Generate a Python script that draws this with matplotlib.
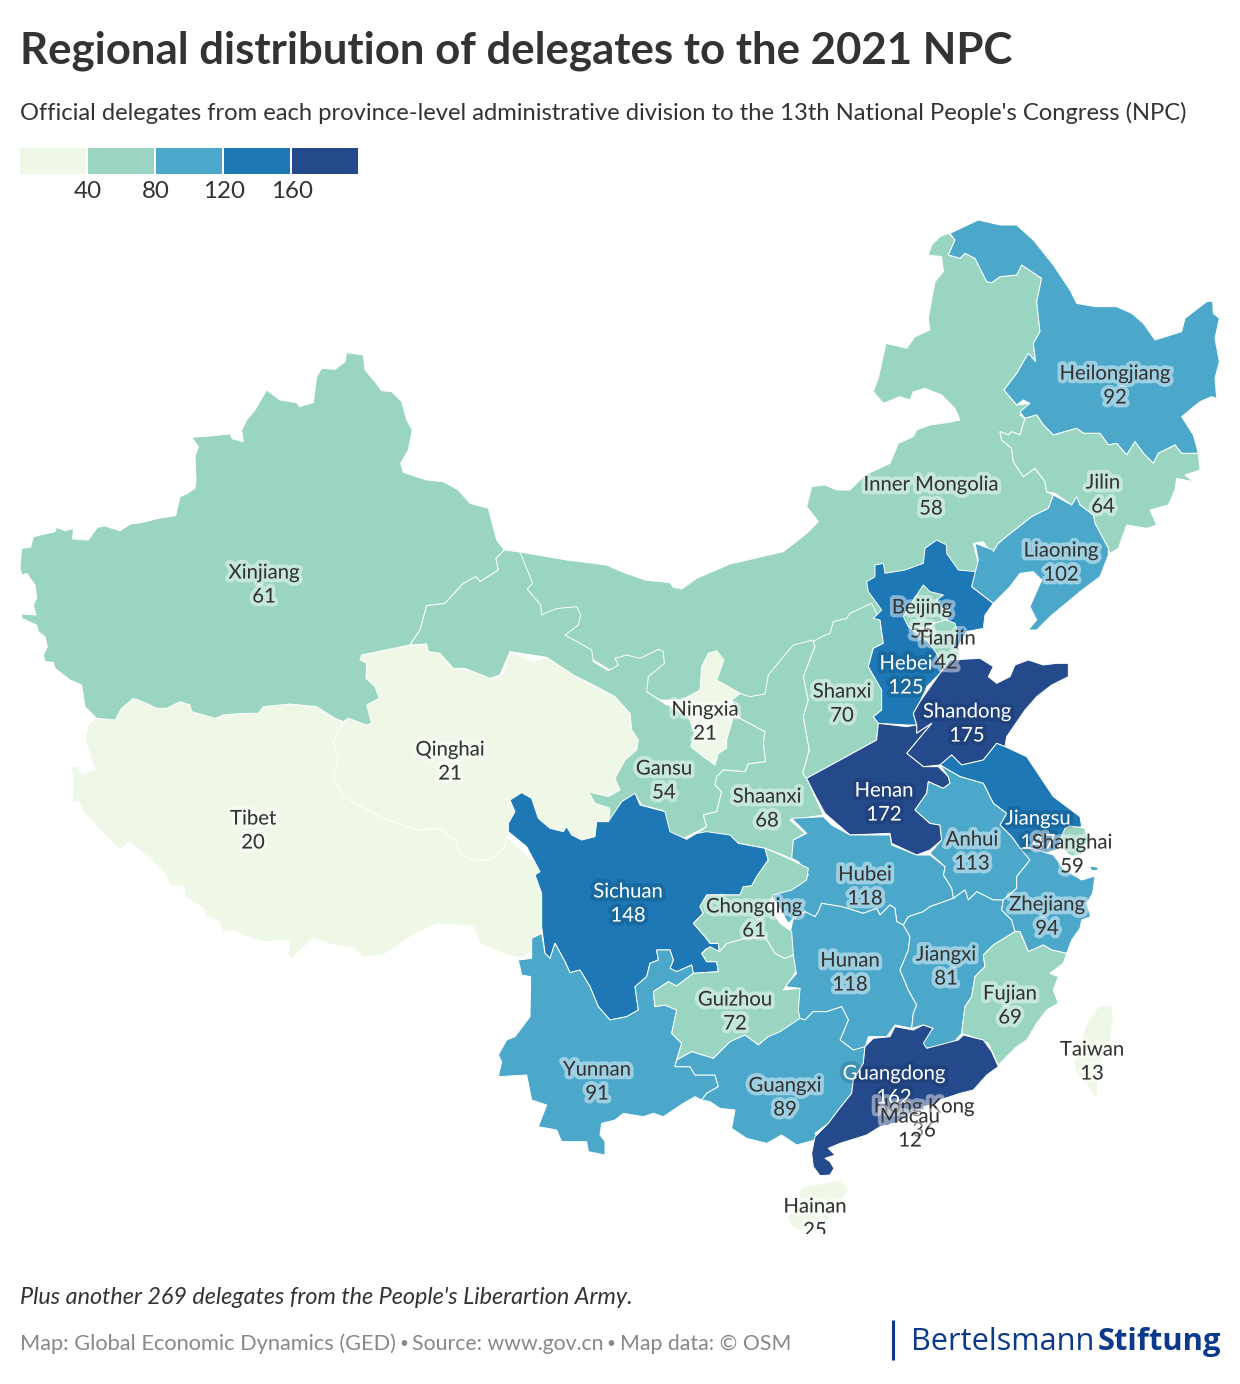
import numpy as np
import matplotlib
matplotlib.use("Agg")
import matplotlib.pyplot as plt
import matplotlib.patheffects as pe
from matplotlib.colors import BoundaryNorm, ListedColormap
from matplotlib.patches import Polygon

plt.rcParams["font.family"] = ["Lato", "DejaVu Sans"]

# ---------- data ----------
REGIONS = ["Tibet", "Qinghai", "Xinjiang", "Inner Mongolia", "Gansu", "Shaanxi", "Ningxia", "Shanxi",
           "Hebei", "Beijing", "Tianjin", "Heilongjiang", "Jilin", "Liaoning", "Shandong", "Henan",
           "Jiangsu", "Anhui", "Shanghai", "Hubei", "Hunan", "Sichuan", "Yunnan", "Guizhou", "Chongqing",
           "Guangxi", "Jiangxi", "Zhejiang", "Fujian", "Guangdong", "Hong Kong", "Macau", "Hainan", "Taiwan"]
DELEGATES = [20, 21, 61, 58, 54, 68, 21, 70,
             125, 55, 42, 92, 64, 102, 175, 172,
             147, 113, 59, 118, 118, 148, 91, 72, 61,
             89, 81, 94, 69, 162, 36, 12, 25, 13]
BIN_EDGES = [0, 40, 80, 120, 160, 200]
BIN_COLORS = ["#EFF8E7", "#99D5C0", "#4CA8CB", "#1D78B5", "#244A8C"]
LEGEND_TICKS = [40, 80, 120, 160]

TITLE = "Regional distribution of delegates to the 2021 NPC"
SUBTITLE = "Official delegates from each province-level administrative division to the 13th National People's Congress (NPC)"
NOTE = "Plus another 269 delegates from the People's Liberartion Army."
SOURCE_PARTS = ["Map: Global Economic Dynamics (GED)", "Source: www.gov.cn", "Map data: © OSM"]


def crop(x0, y0, pts):
    return [(x0 + px / 3, y0 + py / 3) for px, py in pts]


# outlines (map pixel space)
OUTLINES = {}
OUTLINES["Tibet"] = [crop(60, 640, [(85,255),(105,235),(130,100),(800,100),(845,255),(820,305),(835,350),(820,410),(850,470),(970,535),(1070,570),(1140,565),(1190,605),(1200,645),(1250,660),(1290,660),(1335,620),(1340,590),(1460,700),(1460,900),(1385,955),(1340,945),(1260,910),(1240,860),(1130,850),(1060,885),(970,945),(910,950),(880,925),(820,915),(760,895),(695,955),(685,945),(690,900),(610,905),(555,890),(525,870),(490,875),(475,840),(435,830),(430,805),(375,770),(370,740),(330,735),(315,700),(245,635),(205,607),(180,630),(120,570),(70,515),(55,485),(35,485),(40,430),(35,380),(55,378),(65,405),(105,388),(90,345),(75,295)])]
OUTLINES["Qinghai"] = [crop(60, 640, [(845,255),(900,200),(900,45),(1050,15),(1100,15),(1175,50),(1185,85),(1225,90),(1250,100),(1300,115),(1330,100),(1350,35),(1420,65),(1450,55)])
                       + crop(500, 540, [(140,352),(220,405),(280,435),(345,470),(390,520),(395,570),(415,600),(410,630),(375,660),(345,715),(360,750),(325,770),(265,755),(285,790),(330,805),(325,850),(285,960),(120,930),(36,876)])
                       + crop(60, 640, [(1340,590),(1335,620),(1290,660),(1250,660),(1200,645),(1190,605),(1140,565),(1070,570),(970,535),(850,470),(820,410),(835,350),(820,305)])]
OUTLINES["Xinjiang"] = [crop(10, 340, [(30,680),(35,625),(62,622),(70,590),(135,575),(140,562),(165,572),(190,565),(188,597),(235,600),(262,562),(285,558),(330,572),(362,552),(395,548),(445,535),(497,527),(510,470),(530,462),(555,445),(558,420),(555,350),(565,320),(545,292),(600,288),(660,282),(668,297),(700,305),(695,270),(710,240),(735,210),(770,150),(810,180),(860,188),(868,200),(910,188),(920,110),(935,85),(975,88),(1005,65),(1010,38),(1060,45),(1065,90),(1095,125),(1115,152),(1145,155),(1175,185),(1190,240),(1207,270),(1195,330),(1172,370),(1180,397),(1250,420),(1300,425),(1345,450),(1380,490),(1435,505),(1440,525),(1460,600),(1483,630),(1458,655),(1465,690),(1410,725),(1398,710),(1360,730),(1305,790),(1250,797),(1230,870),(1200,915),(1150,925),(1055,945),(1050,960),(1070,970),(1068,1015),(1095,1040),(1108,1075),(1070,1095),(1085,1150),(1070,1155),(1015,1135),(1000,1145),(975,1135),(920,1100),(840,1092),(760,1100),(745,1120),(700,1120),(640,1125),(615,1135),(545,1115),(540,1095),(510,1085),(470,1105),(440,1105),(410,1090),(370,1075),(335,1105),(315,1140),(260,1135),(225,1100),(215,1035),(180,1020),(135,985),(130,967),(105,965),(100,945),(112,920),(105,890),(85,875),(80,855),(35,835),(35,822),(78,825),(70,795),(80,775),(75,735),(50,700),(35,705)])]
OUTLINES["Inner Mongolia"] = [crop(500, 540, [(60,36),(200,60),(320,75),(365,95),(435,120),(510,128),(520,142),(545,147),(590,115),(690,72),(850,35),(895,0)])
    + crop(660, 400, [(440,400),(475,365),(440,320),(455,260),(495,255),(530,270),(570,270),(615,225),(690,190),(715,130),(760,110),(770,90),(810,75),(860,68)])
    + crop(860, 215, [(300,615),(285,580),(245,540),(195,520),(160,530),(150,555),(120,545),(70,565),(40,530),(55,490),(78,385),(140,400),(165,365),(210,345),(205,310),(225,200),(250,170),(245,125),(205,120),(215,90),(240,65),(265,55),(285,75),(265,120),(300,130),(315,115),(345,130),(380,200),(395,203),(420,185),(470,180),(485,150),(545,190),(530,260),(540,350),(520,385),(527,440),(505,415),(470,475),(432,525),(470,570),(510,565),(490,590),(480,600),(495,610),(480,660),(455,650),(445,660),(420,650),(425,675),(455,700),(460,740),(490,785),(525,760),(555,800),(560,830),(580,840),(565,880),(515,905),(490,925),(445,960),(415,985),(400,1010)])
    + crop(660, 400, [(995,465),(970,425),(940,430),(955,490),(945,515),(810,570),(570,780),(390,900),(0,900)])
    + crop(500, 540, [(180,300),(40,200)])]
OUTLINES["Gansu"] = [crop(10, 340, [(1483,630),(1458,655),(1465,690),(1410,725),(1398,710),(1360,730),(1305,790),(1250,797),(1230,870),(1200,915),(1250,912),(1255,935),(1290,940),(1330,985),(1365,985),(1440,1015),(1470,1005),(1500,935)])
    + crop(500, 540, [(140,352),(220,405),(280,435),(345,470),(390,520),(395,570),(415,600),(410,630),(375,660),(345,715),(360,750),(325,770),(265,755),(285,790),(330,805),(325,850),(375,825),(360,790),(405,762),(425,795),(490,812),(510,880),(550,895),(590,875),(620,860),(610,825),(650,815),(665,755),(645,735),(650,710),(670,690),(735,695),(745,672),(797,665),(790,610),(795,575),(720,535),(695,530),(650,500),(500,495),(440,455),(445,410),(493,370),(490,335),(475,328),(420,355),(380,345),(345,355),(355,375),(325,392),(280,365),(275,330),(240,310),(195,285),(235,255),(242,225),(230,200),(175,205),(145,215),(125,225),(122,195),(82,148),(98,130),(60,36)])]
OUTLINES["Shaanxi"] = [crop(500, 540, [(720,460),(750,470),(795,462),(805,405),(850,350),(880,315),(940,300),(945,320),(910,410),(925,480),(910,530),(928,630),(908,700),(920,715),(970,825),(870,840),(915,880),(880,900),(880,960),(850,945),(795,925),(720,910),(640,890),(590,880),(620,860),(610,825),(650,815),(665,755),(645,735),(650,710),(670,690),(735,695),(745,672),(797,665),(790,610),(795,575),(720,535),(695,480)])]
OUTLINES["Ningxia"] = [crop(500, 540, [(650,332),(672,360),(650,420),(720,460),(695,480),(700,530),(680,600),(680,625),(655,640),(645,675),(610,650),(572,620),(585,580),(565,530),(510,500),(600,450),(605,380),(625,340)])]
OUTLINES["Shanxi"] = [crop(780, 520, [(100,365),(125,350),(150,340),(160,305),(200,295),(210,280),(275,250),(300,300),(310,370),(280,385),(265,440),(305,510),(305,570),(280,590),(295,610),(290,660),(190,715),(80,775),(68,760),(88,690),(70,590),(85,540),(70,470),(105,380)])]
OUTLINES["Hebei"] = [crop(780, 520, [(640,250),(615,285),(610,325),(560,335),(535,380),(540,410),(510,420),(480,460),(440,500),(420,545),(400,580),(410,615),(380,615),(295,610),(280,590),(305,570),(305,510),(265,440),(280,385),(310,370),(300,300),(280,295),(305,270),(265,215),(260,185),(285,170),(285,135),(310,130),(315,160),(375,150),(430,130),(435,85),(470,60),(500,75),(500,100),(535,150),(590,155),(575,200)])]
OUTLINES["Beijing"] = [crop(780, 520, [(430,195),(450,215),(490,225),(470,240),(490,270),(510,260),(500,300),(460,310),(420,345),(385,320),(370,290),(400,240)])]
OUTLINES["Tianjin"] = [crop(780, 520, [(460,310),(500,300),(525,310),(530,330),(520,380),(540,400),(510,440),(490,450),(470,400),(440,360),(420,345)])]
OUTLINES["Heilongjiang"] = [crop(860, 215, [(270,55),(355,15),(420,30),(470,30),(520,75),(580,150),(630,225),(650,265),(705,275),(770,275),(815,295),(850,325),(885,375),(965,350),(975,310),(1040,260),(1058,258),(1060,295),(1078,310),(1065,370),(1078,440),(1065,490),(1070,550),(1055,545),(1020,560),(965,605),(1000,660),(1015,715),(965,715),(945,690),(895,715),(880,745),(850,715),(825,680),(800,720),(770,685),(745,690),(720,655),(670,655),(650,640),(580,660),(550,630),(530,600),(495,610),(480,590),(510,565),(490,555),(470,570),(432,525),(470,475),(505,415),(527,440),(520,385),(540,350),(530,260),(545,190),(485,150),(470,180),(420,185),(395,203),(380,200),(345,130),(315,115),(300,130),(265,120),(285,75)])]
OUTLINES["Jilin"] = [crop(860, 215, [(495,610),(530,600),(550,630),(580,660),(650,640),(670,655),(720,655),(745,690),(770,685),(800,720),(825,680),(850,715),(880,745),(895,715),(945,690),(965,715),(1015,715),(1020,765),(975,780),(1000,800),(950,790),(945,825),(925,870),(870,885),(890,930),(860,940),(800,930),(775,1000),(750,1015),(745,1000),(705,925),(700,900),(660,870),(650,845),(635,870),(585,835),(560,830),(555,800),(525,760),(490,785),(460,740),(455,700),(425,675),(420,650),(445,660),(455,650),(480,660)])]
OUTLINES["Liaoning"] = [crop(860, 215, [(580,840),(565,880),(515,905),(490,925),(445,960),(415,985),(400,1010)])
    + crop(780, 520, [(640,90),(585,70),(595,120),(575,200),(640,250),(690,200),(720,160),(760,155),(785,180),(750,260),(770,300),(745,330),(770,330),(810,290),(900,215),(960,170),(985,105)])
    + crop(860, 215, [(745,1000),(705,925),(700,900),(660,870),(650,845),(635,870)])]
OUTLINES["Shandong"] = [crop(780, 520, [(510,420),(600,415),(640,440),(625,470),(650,490),(690,470),(705,435),(745,420),(790,435),(830,430),(865,430),(865,470),(815,495),(770,530),(735,570),(680,650),(675,680),(650,670),(610,720),(545,735),(515,705),(480,735),(430,740),(380,700),(455,610),(410,640),(410,615),(400,580),(420,545),(480,460)])]
OUTLINES["Henan"] = [crop(780, 520, [(80,775),(190,715),(290,660),(295,610),(380,620),(410,615),(410,640),(455,610),(380,700),(430,740),(475,740),(505,770),(510,790),(490,805),(445,785),(440,820),(405,870),(450,910),(480,915),(485,960),(450,990),(410,1005),(335,970),(330,940),(210,945),(135,880),(105,825)])]
OUTLINES["Jiangsu"] = [crop(780, 520, [(480,735),(515,705),(545,735),(610,720),(650,670),(675,680),(740,710),(760,740),(820,830),(860,860),(900,890),(905,920),(870,925),(850,960),(830,990),(790,1000),(720,985),(695,950),(660,915),(680,880),(640,850),(610,790),(540,770)])]
OUTLINES["Anhui"] = [crop(780, 520, [(480,735),(540,770),(610,790),(640,850),(680,880),(660,915),(695,950),(720,985),(755,985),(750,1020),(710,1070),(710,1105),(670,1140),(640,1140),(590,1115),(565,1140),(555,1110),(520,1135),(515,1105),(490,1065),(495,1040),(450,1000),(485,960),(480,915),(450,910),(405,870),(440,820),(445,785),(490,805),(510,790),(505,770)])]
OUTLINES["Shanghai"] = [crop(780, 520, [(855,925),(870,918),(915,925),(925,960),(905,1005),(875,1010),(850,990),(840,960)])]
OUTLINES["Hubei"] = [crop(780, 800, [(35,55),(130,50),(155,75),(210,105),(330,105),(335,135),(410,165),(450,165),(495,200),(490,225),(515,265),(520,295),(450,320),(430,335),(385,350),(370,375),(350,365),(345,325),(330,315),(300,345),(290,325),(250,340),(185,320),(125,310),(115,335),(105,350),(75,335),(40,355),(25,370),(-5,320),(-30,280),(20,265),(60,250),(85,225),(55,185),(35,175),(40,120),(80,100)])]
OUTLINES["Hunan"] = [crop(780, 800, [(40,355),(30,400),(25,470),(50,520),(15,560),(60,565),(45,610),(60,655),(75,660),(100,635),(140,635),(185,620),(205,660),(180,720),(220,750),(255,745),(265,710),(320,710),(345,675),(395,685),(400,640),(410,615),(385,570),(360,510),(385,450),(390,410),(370,375),(350,365),(345,325),(330,315),(300,345),(290,325),(250,340),(185,320),(125,310),(115,335),(105,350),(75,335)])]
OUTLINES["Sichuan"] = [crop(490, 780, [(60,60),(95,38),(125,55),(145,115),(180,145),(220,155),(230,140),(245,165),(275,180),(315,170),(320,125),(355,125),(395,65),(435,40),(450,75),(525,95),(540,155),(590,178),(620,160),(650,155),(720,165),(745,190),(825,205),(835,240),(800,290),(785,318),(760,320),(750,345),(650,345),(630,380),(640,400),(610,430),(645,470),(660,490),(685,490),(688,515),(650,505),(635,520),(650,545),(680,545),(685,575),(610,580),(605,555),(560,575),(540,565),(550,540),(540,510),(500,510),(505,540),(480,550),(470,590),(435,620),(445,690),(410,710),(360,720),(325,680),(300,620),(270,570),(240,578),(225,545),(195,490),(180,535),(165,520),(155,440),(155,340),(135,285),(150,275),(110,200),(55,155),(55,130),(75,95)])]
OUTLINES["Yunnan"] = [crop(490, 780, [(85,540),(125,535),(125,475),(155,460),(165,520),(180,535),(195,490),(225,545),(240,578),(270,570),(300,620),(325,680),(360,720),(410,710),(445,690),(435,620),(470,590),(480,550),(505,540),(500,510),(540,510),(550,540),(540,565),(560,575),(605,555),(610,580),(560,618),(535,605),(490,635),(495,680),(525,675),(560,690),(545,760),(575,790),(560,840),(555,860),(600,860),(615,885),(675,885),(685,920),(650,940),(635,960),(615,950),(580,970),(520,1010),(490,1000),(460,1010),(400,1000),(375,1020),(335,1030),(330,1065),(345,1085),(345,1125),(295,1115),(290,1085),(215,1085),(200,1050),(145,1040),(170,975),(125,960),(110,885),(25,890),(35,845),(25,825),(50,780),(75,770),(120,710),(122,590),(95,585)])]
OUTLINES["Guizhou"] = [crop(490, 780, [(490,635),(535,605),(560,618),(610,580),(685,575),(680,545),(650,545),(635,520),(660,500),(688,515),(710,490),(765,475),(825,470),(855,520),(885,535),(910,525),(918,575),(880,630),(930,625),(925,690),(930,720),(860,765),(835,770),(805,795),(765,765),(720,785),(670,835),(605,815),(560,840),(575,790),(545,760),(560,690),(525,675),(495,680)])]
OUTLINES["Chongqing"] = [crop(490, 780, [(825,205),(835,240),(800,290),(785,318),(760,320),(750,345),(650,345),(630,380),(640,400),(610,430),(645,470),(660,490),(685,490),(688,515),(710,490),(765,475),(825,470),(855,520),(885,535),(910,525),(905,455),(870,430),(835,375),(850,345),(905,330),(950,300),(955,265),(905,240),(850,215)])]
OUTLINES["Guangxi"] = [crop(490, 780, [(555,860),(600,860),(615,885),(675,885),(685,920),(650,940),(635,960),(660,965),(690,985),(735,990),(725,1045),(770,1075),(830,1090),(875,1065),(920,1095),(975,1080)])
    + crop(760, 1020, [(180,365),(165,340),(205,310),(235,270),(275,220),(280,180),(310,130),(315,80)])
    + crop(780, 800, [(220,750),(180,720),(205,660),(185,620),(140,635),(100,635),(75,660),(60,655),(0,695)])
    + crop(490, 780, [(835,770),(805,795),(765,765),(720,785),(670,835),(605,815),(560,840)])]
OUTLINES["Jiangxi"] = [crop(780, 800, [(370,375),(385,350),(430,335),(450,320),(520,295),(555,270),(565,300),(590,275),(640,300),(670,300),(665,330),(695,360),(705,395),(640,435),(610,465),(615,500),(585,530),(575,590),(555,620),(545,700),(510,740),(425,745),(415,725),(460,685),(430,675),(395,685),(400,640),(410,615),(385,570),(360,510),(385,450),(390,410)])]
OUTLINES["Zhejiang"] = [crop(780, 800, [(720,145),(755,145),(820,165),(850,205),(905,240),(945,228),(938,280),(920,310),(932,350),(905,360),(900,385),(875,420),(860,460),(815,450),(790,435),(745,455),(720,395),(705,395),(695,360),(665,330),(670,300),(710,265),(710,230),(750,180)]),
                        crop(1020, 800, [(208,198),(235,202),(232,212),(215,212)])]
OUTLINES["Fujian"] = [crop(780, 800, [(705,395),(720,395),(745,455),(790,435),(815,450),(860,460),(850,490),(810,520),(835,530),(820,570),(835,610),(800,630),(770,670),(740,720),(710,740),(655,795),(625,730),(590,715),(545,700),(555,620),(575,590),(585,530),(615,500),(610,465),(640,435)])]
OUTLINES["Guangdong"] = [crop(760, 1020, [(315,80),(340,55),(390,50),(405,20),(460,30),(490,15),(518,25),(490,70),(500,85),(595,60),(610,45),(670,60),(695,95),(715,140),(680,165),(640,210),(600,220),(540,240),(510,270),(470,270),(410,310),(360,320),(320,345),(240,370),(205,385),(225,405),(195,415),(210,425),(222,445),(210,465),(180,467),(160,440),(155,400),(165,350),(205,310),(235,270),(275,220),(280,180),(310,130)])]
OUTLINES["Hong Kong"] = [crop(760, 1020, [(490,260),(530,250),(540,265),(500,278)])]
OUTLINES["Macau"] = [crop(760, 1020, [(392,312),(402,310),(404,320),(394,322)])]
OUTLINES["Hainan"] = [crop(760, 1020, [(130,500),(190,490),(240,480),(265,510),(230,560),(200,610),(160,640),(100,625),(80,590),(125,550),(115,520)])]
OUTLINES["Taiwan"] = [crop(1020, 800, [(200,670),(235,620),(275,615),(280,660),(270,720),(240,790),(230,895),(205,860),(170,820),(160,790),(185,720)])]

# label anchors: (x, name y, value y), listed in drawing order
LABELS = {
    "Xinjiang": (264, 571, 595), "Tibet": (253, 817, 841), "Qinghai": (450, 748, 772),
    "Gansu": (664, 767, 791), "Ningxia": (705, 708, 732), "Shaanxi": (767, 795, 819),
    "Shanxi": (842, 690, 714), "Inner Mongolia": (931, 483, 507), "Heilongjiang": (1115, 372, 396),
    "Jilin": (1103, 481, 505), "Liaoning": (1061, 549, 573), "Beijing": (922, 606, 630),
    "Hebei": (906, 662, 686), "Tianjin": (946, 637, 661), "Shandong": (967, 710, 734),
    "Henan": (884, 789, 813), "Anhui": (972, 838, 862), "Jiangsu": (1038, 817, 841),
    "Shanghai": (1072, 841, 865), "Hubei": (865, 873, 897), "Sichuan": (628, 890, 914),
    "Chongqing": (754, 905, 929), "Hunan": (850, 959, 983), "Jiangxi": (946, 953, 977),
    "Zhejiang": (1047, 903, 927), "Fujian": (1010, 992, 1016), "Guizhou": (735, 998, 1022),
    "Yunnan": (597, 1068, 1092), "Guangxi": (785, 1084, 1108), "Guangdong": (894, 1072, 1096),
    "Hong Kong": (924, 1105, 1129), "Macau": (910, 1115, 1139), "Taiwan": (1092, 1048, 1072),
    "Hainan": (815, 1205, 1229),
}

# ---------- figure ----------
W, H, MAP_BOTTOM = 1240, 1384, 1234
TEXT_DY = 2
fig = plt.figure(figsize=(W / 100, H / 100), dpi=100, facecolor="white")
ax = fig.add_axes([0, 0, 1, 1])
ax.set_xlim(0, W)
ax.set_ylim(H, 0)
ax.axis("off")
map_ax = fig.add_axes([0, 1 - MAP_BOTTOM / H, 1, MAP_BOTTOM / H])
map_ax.set_xlim(0, W)
map_ax.set_ylim(MAP_BOTTOM, 0)
map_ax.axis("off")

cmap = ListedColormap(BIN_COLORS)
norm = BoundaryNorm(BIN_EDGES, cmap.N)
values = dict(zip(REGIONS, DELEGATES))

for name, value in zip(REGIONS, DELEGATES):
    for part in OUTLINES[name]:
        map_ax.add_patch(Polygon(np.array(part), closed=True, facecolor=cmap(norm(value)),
                                 edgecolor="white", linewidth=0.7, joinstyle="round"))

# halo: each label gets a tint of its fill (white over the lighter classes, dark over the darker)
for name, (x, y_name, y_val) in LABELS.items():
    v = values[name]
    dark_fill = v >= 120
    color = "white" if dark_fill else "#333333"
    halo = pe.withStroke(linewidth=5.5, foreground="#0a1f40" if dark_fill else "white",
                         alpha=0.17 if dark_fill else 0.45)
    for text, y in ((name, y_name), (str(v), y_val)):
        map_ax.text(x, y + TEXT_DY, text, ha="center", va="center", fontsize=14.6, color=color,
                    clip_on=True, path_effects=[halo], zorder=5)

# legend
cell_w, gap, lx, ly, lh = 66, 2, 20, 148, 26
edges = np.arange(len(BIN_COLORS))
ax.bar(lx + edges * (cell_w + gap), lh, width=cell_w, bottom=ly, align="edge", color=BIN_COLORS, linewidth=0)
for i, t in enumerate(LEGEND_TICKS):
    ax.text(lx + (i + 1) * (cell_w + gap), 189 + TEXT_DY, str(t), ha="center", va="center",
            fontsize=17.4, color="#333333")

# titles and footer
ax.text(20, 51, TITLE, ha="left", va="center", fontsize=31.5, fontweight="bold", color="#333333")
ax.text(20, 113, SUBTITLE, ha="left", va="center", fontsize=17.1, color="#333333")
ax.text(20, 1297, NOTE, ha="left", va="center", fontsize=16.8, style="italic", color="#333333")
for x, size, part in zip((20, 412, 620), (15.7, 15.35, 15.35), SOURCE_PARTS):
    ax.text(x, 1344, part, ha="left", va="center", fontsize=size, color="#888888")
for x in (404, 611):
    ax.text(x, 1344, "•", ha="center", va="center", fontsize=11, color="#888888")

# logo
ax.plot([893, 893], [1320, 1360], color="#0B3A8C", linewidth=2.2, solid_capstyle="butt")
ax.text(911, 1342, "Bertelsmann", ha="left", va="center", fontsize=22.1, family="Open Sans", color="#0B3A8C")
ax.text(1098, 1342, "Stiftung", ha="left", va="center", fontsize=22.2, fontweight="bold", family="Open Sans", color="#0B3A8C")

fig.savefig("out.png", dpi=100, facecolor="white")
